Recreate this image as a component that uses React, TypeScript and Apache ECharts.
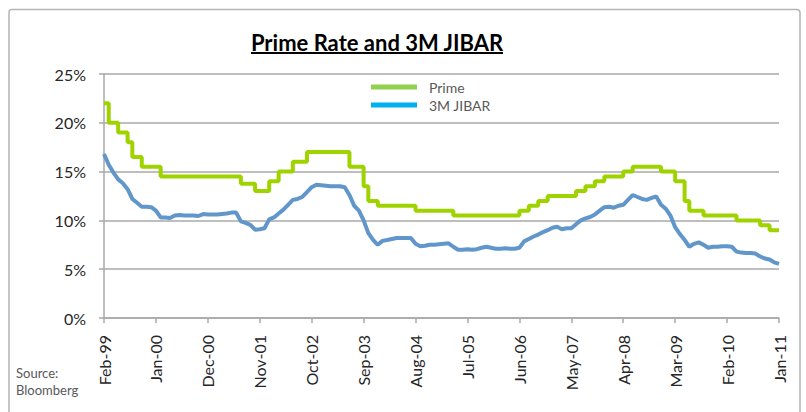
import React, { useEffect, useRef } from 'react';
import * as echarts from 'echarts';

const MONTH_NAMES = ['Jan', 'Feb', 'Mar', 'Apr', 'May', 'Jun', 'Jul', 'Aug', 'Sep', 'Oct', 'Nov', 'Dec'];
const START_YEAR = 1999;
const START_MONTH = 1; // Feb
const MONTH_COUNT = 144; // Feb-99 .. Jan-11

const categories: string[] = Array.from({ length: MONTH_COUNT }, (_, i) => {
  const t = START_MONTH + i;
  const y = START_YEAR + Math.floor(t / 12);
  return MONTH_NAMES[t % 12] + '-' + String(y % 100).padStart(2, '0');
});

const primeRate: number[] = [
  22, 20, 20, 19, 19, 18, 16.5, 16.5, 15.5, 15.5, 15.5, 15.5,
  14.5, 14.5, 14.5, 14.5, 14.5, 14.5, 14.5, 14.5, 14.5, 14.5, 14.5, 14.5,
  14.5, 14.5, 14.5, 14.5, 14.5, 13.75, 13.75, 13.75, 13, 13, 13, 14,
  14, 15, 15, 15, 16, 16, 16, 17, 17, 17, 17, 17,
  17, 17, 17, 17, 15.5, 15.5, 15.5, 13.5, 12, 12, 11.5, 11.5,
  11.5, 11.5, 11.5, 11.5, 11.5, 11.5, 11, 11, 11, 11, 11, 11,
  11, 11, 10.5, 10.5, 10.5, 10.5, 10.5, 10.5, 10.5, 10.5, 10.5, 10.5,
  10.5, 10.5, 10.5, 10.5, 11, 11, 11.5, 11.5, 12, 12, 12.5, 12.5,
  12.5, 12.5, 12.5, 12.5, 13, 13, 13.5, 13.5, 14, 14, 14.5, 14.5,
  14.5, 14.5, 15, 15, 15.5, 15.5, 15.5, 15.5, 15.5, 15.5, 15, 15,
  15, 14, 14, 12, 11, 11, 11, 10.5, 10.5, 10.5, 10.5, 10.5,
  10.5, 10.5, 10, 10, 10, 10, 10, 9.5, 9.5, 9, 9, 9,
];

const jibar3m: number[] = [
  16.8, 15.7, 14.9, 14.2, 13.8, 13.2, 12.2, 11.8, 11.4, 11.4, 11.35, 11.0,
  10.3, 10.3, 10.25, 10.5, 10.55, 10.5, 10.5, 10.5, 10.45, 10.65, 10.6, 10.6,
  10.6, 10.65, 10.7, 10.8, 10.8, 9.9, 9.75, 9.55, 9.05, 9.1, 9.2, 10.1,
  10.3, 10.7, 11.1, 11.6, 12.1, 12.2, 12.4, 12.9, 13.4, 13.65, 13.6, 13.55,
  13.5, 13.5, 13.5, 13.4, 12.6, 11.5, 11.0, 10.0, 8.7, 8.0, 7.5, 7.9,
  8.0, 8.1, 8.2, 8.2, 8.2, 8.2, 7.6, 7.35, 7.4, 7.5, 7.5, 7.55,
  7.6, 7.65, 7.3, 7.0, 7.0, 7.05, 7.0, 7.05, 7.2, 7.3, 7.2, 7.1,
  7.1, 7.15, 7.1, 7.1, 7.2, 7.85, 8.1, 8.35, 8.55, 8.8, 9.0, 9.25,
  9.35, 9.1, 9.2, 9.2, 9.6, 10.0, 10.2, 10.35, 10.6, 11.0, 11.35, 11.4,
  11.3, 11.5, 11.6, 12.1, 12.6, 12.4, 12.2, 12.1, 12.3, 12.45, 11.6, 11.2,
  10.5, 9.3, 8.6, 8.0, 7.3, 7.6, 7.75, 7.5, 7.2, 7.3, 7.3, 7.35,
  7.35, 7.3, 6.8, 6.7, 6.65, 6.65, 6.6, 6.3, 6.1, 6.0, 5.7, 5.55,
];

const TITLE = 'Prime Rate and 3M JIBAR';
const SERIES_NAMES = ['Prime', '3M JIBAR'];
const SOURCE_LINES = ['Source:', 'Bloomberg'];

const GRID = '#a9a9a9';
const FONT = 'Lato';

export default function App() {
  const ref = useRef<HTMLDivElement>(null);

  useEffect(() => {
    if (!ref.current) return;
    const chart = echarts.init(ref.current, undefined, { renderer: 'svg' });
    chart.setOption({
      animation: false,
      backgroundColor: '#ffffff',
      grid: { left: 104, right: 27, top: 74, bottom: 94, containLabel: false },
      legend: {
        left: 371,
        top: 80,
        padding: 0,
        orient: 'vertical',
        icon: 'rect',
        itemWidth: 46,
        itemHeight: 5,
        itemGap: 4,
        selectedMode: false,
        textStyle: { fontFamily: FONT, fontSize: 14, color: '#595959', padding: [0, 0, 0, 7] },
        data: [
          { name: SERIES_NAMES[0], itemStyle: { color: '#92D050' } },
          { name: SERIES_NAMES[1], itemStyle: { color: '#00B0F0' } },
        ],
      },
      xAxis: {
        type: 'category',
        data: categories,
        boundaryGap: false,
        axisLine: { lineStyle: { color: GRID, width: 1.5 } },
        axisTick: { interval: 10, length: 5, lineStyle: { color: GRID, width: 1.5 } },
        axisLabel: {
          interval: 10,
          rotate: 90,
          margin: 17,
          fontFamily: FONT,
          fontSize: 16,
          color: '#262626',
        },
        splitLine: { show: false },
      },
      yAxis: {
        type: 'value',
        min: 0,
        max: 25,
        interval: 5,
        axisLine: { show: true, lineStyle: { color: GRID, width: 1.5 } },
        axisTick: { show: true, length: 5, lineStyle: { color: GRID, width: 1.5 } },
        axisLabel: {
          formatter: '{value}%',
          margin: 18,
          fontFamily: FONT,
          fontSize: 16,
          color: '#262626',
        },
        splitLine: { show: true, lineStyle: { color: GRID, width: 1.5 } },
      },
      series: [
        {
          name: SERIES_NAMES[0],
          type: 'line',
          data: primeRate,
          step: 'end',
          showSymbol: false,
          symbol: 'none',
          lineStyle: { color: '#9ED300', width: 4 },
          itemStyle: { color: '#9ED300' },
          z: 3,
        },
        {
          name: SERIES_NAMES[1],
          type: 'line',
          data: jibar3m,
          showSymbol: false,
          symbol: 'none',
          lineStyle: { color: '#6096CA', width: 4 },
          itemStyle: { color: '#6096CA' },
          z: 4,
        },
      ],
      graphic: [
        {
          type: 'rect',
          shape: { x: 9, y: 9.5, width: 791, height: 420, r: 3 },
          style: { fill: 'none', stroke: '#b4b4b4', lineWidth: 1.5 },
          silent: true,
          z: -1,
        },
        {
          type: 'text',
          x: 377,
          y: 42,
          style: {
            text: TITLE,
            fontFamily: FONT,
            fontWeight: 'bold',
            fontSize: 22,
            fill: '#000000',
            align: 'center',
            verticalAlign: 'middle',
          },
        },
        {
          type: 'line',
          shape: { x1: 251, y1: 53, x2: 503, y2: 53 },
          style: { stroke: '#000000', lineWidth: 2 },
        },
        {
          type: 'text',
          x: 16,
          y: 373,
          style: {
            text: SOURCE_LINES[0],
            fontFamily: FONT,
            fontSize: 13,
            fill: '#595959',
            align: 'left',
            verticalAlign: 'middle',
          },
        },
        {
          type: 'text',
          x: 16,
          y: 390,
          style: {
            text: SOURCE_LINES[1],
            fontFamily: FONT,
            fontSize: 13,
            fill: '#595959',
            align: 'left',
            verticalAlign: 'middle',
          },
        },
      ],
    });
    return () => chart.dispose();
  }, []);

  return (
    <div
      ref={ref}
      style={{ position: 'absolute', left: 0, top: 0, width: 806, height: 412 }}
    />
  );
}
